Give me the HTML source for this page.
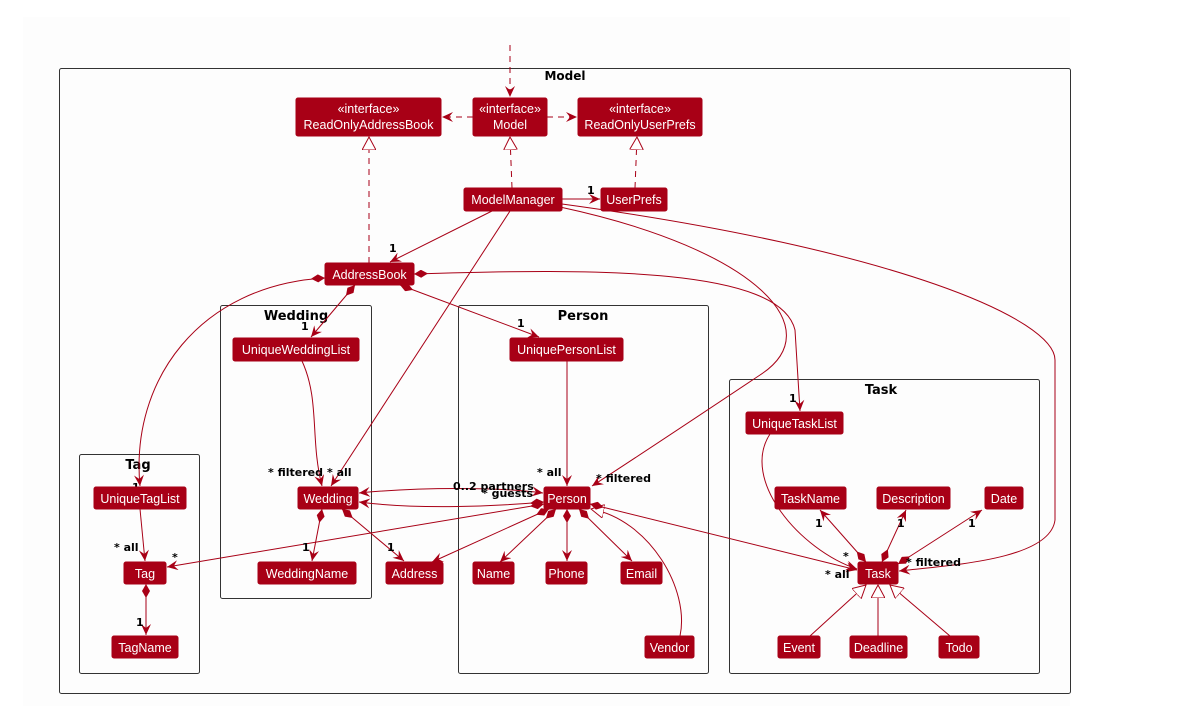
<!DOCTYPE html>
<html><head><meta charset="utf-8"><style>
html,body{margin:0;padding:0;background:#fff;width:1193px;height:706px;overflow:hidden}
svg{display:block}
.n{fill:#a80016;stroke:#a80016}
.t{fill:#fff;font-family:"Liberation Sans",sans-serif;font-size:12.5px;text-anchor:middle}
.pk{fill:none;stroke:#333;stroke-width:1}
.pt{font-family:"DejaVu Sans","Liberation Sans",sans-serif;font-weight:bold;font-size:13px;text-anchor:middle;fill:#000}
.l{font-family:"DejaVu Sans","Liberation Sans",sans-serif;font-weight:bold;font-size:11px;fill:#000}
.e{fill:none;stroke:#a80016;stroke-width:1}
.d{stroke-dasharray:6,5}
</style></head><body>
<svg width="1193" height="706" viewBox="0 0 1193 706" xmlns="http://www.w3.org/2000/svg">
<defs>
<marker id="a" viewBox="0 0 12 10" refX="11" refY="5" markerWidth="12" markerHeight="10" markerUnits="userSpaceOnUse" orient="auto-start-reverse"><path d="M0,0 L11,5 L0,10 L4,5 Z" fill="#a80016"/></marker>
<marker id="dm" viewBox="0 0 14 8" refX="0" refY="4" markerWidth="14" markerHeight="8" markerUnits="userSpaceOnUse" orient="auto"><path d="M0,4 L7,0 L14,4 L7,8 Z" fill="#a80016"/></marker>
<marker id="tr" viewBox="0 0 14 14" refX="13" refY="7" markerWidth="14" markerHeight="14" markerUnits="userSpaceOnUse" orient="auto"><path d="M0,0 L13,7 L0,14 Z" fill="#fff" stroke="#a80016"/></marker>
</defs>
<rect x="23" y="17" width="1047" height="689" fill="#fdfdfd"/>
<!-- packages -->
<rect class="pk" x="59.5" y="68.5" width="1011" height="625" rx="2"/>
<text class="pt" x="565" y="80" style="font-size:12px">Model</text>
<rect class="pk" x="220.5" y="305.5" width="151" height="293" rx="2"/>
<text class="pt" x="296" y="320">Wedding</text>
<rect class="pk" x="458.5" y="305.5" width="250" height="368" rx="2"/>
<text class="pt" x="583" y="320">Person</text>
<rect class="pk" x="729.5" y="379.5" width="310" height="294" rx="2"/>
<text class="pt" x="881" y="394">Task</text>
<rect class="pk" x="79.5" y="454.5" width="120" height="219" rx="2"/>
<text class="pt" x="138" y="469">Tag</text>

<!-- edges -->
<path class="e d" d="M510,45 L510,97" marker-end="url(#a)"/>
<path class="e d" d="M473,117 L442,117" marker-end="url(#a)"/>
<path class="e d" d="M547,117 L577,117" marker-end="url(#a)"/>
<path class="e d" d="M512,188 L510,137" marker-end="url(#tr)"/>
<path class="e d" d="M635,188 L637,137" marker-end="url(#tr)"/>
<path class="e d" d="M369,263 L369,137" marker-end="url(#tr)"/>
<path class="e" d="M562,199 L600,199" marker-end="url(#a)"/>
<path class="e" d="M492,211 L390,262" marker-end="url(#a)"/>
<path class="e" d="M510,211 L331,486" marker-end="url(#a)"/>
<path class="e" d="M560,207 C760,250 830,330 760,375 C700,415 640,455 592,486" marker-end="url(#a)"/>
<path class="e" d="M562,204 C900,250 1055,320 1055,360 L1055,520 C1050,560 950,565 899,571" marker-end="url(#a)"/>
<path class="e" d="M325,278 C200,285 130,380 140,486" marker-start="url(#dm)" marker-end="url(#a)"/>
<path class="e" d="M355,285 L311,337" marker-start="url(#dm)" marker-end="url(#a)"/>
<path class="e" d="M400,285 L539,337" marker-start="url(#dm)" marker-end="url(#a)"/>
<path class="e" d="M414,274 C600,268 780,268 795,330 L800,411" marker-start="url(#dm)" marker-end="url(#a)"/>
<path class="e" d="M302,361 C320,400 310,440 322,486" marker-end="url(#a)"/>
<path class="e" d="M567,361 L567,486" marker-end="url(#a)"/>
<path class="e" d="M770,434 C740,480 800,550 857,569" marker-end="url(#a)"/>
<path class="e" d="M140,509 L145,561" marker-end="url(#a)"/>
<path class="e" d="M359,493 C420,487 500,487 543,493" marker-start="url(#a)" marker-end="url(#a)"/>
<path class="e" d="M544,502 C500,506 420,510 359,502" marker-start="url(#dm)" marker-end="url(#a)"/>
<path class="e" d="M544,504 L167,567" marker-start="url(#dm)" marker-end="url(#a)"/>
<path class="e" d="M549,509 L432,562" marker-start="url(#dm)" marker-end="url(#a)"/>
<path class="e" d="M556,509 L500,562" marker-start="url(#dm)" marker-end="url(#a)"/>
<path class="e" d="M567,509 L567,561" marker-start="url(#dm)" marker-end="url(#a)"/>
<path class="e" d="M579,509 L632,561" marker-start="url(#dm)" marker-end="url(#a)"/>
<path class="e" d="M680,636 C690,590 650,520 591,509" marker-end="url(#tr)"/>
<path class="e" d="M590,504 L857,570" marker-start="url(#dm)" marker-end="url(#a)"/>
<path class="e" d="M322,509 L312,561" marker-start="url(#dm)" marker-end="url(#a)"/>
<path class="e" d="M342,509 L404,561" marker-start="url(#dm)" marker-end="url(#a)"/>
<path class="e" d="M146,584 L146,635" marker-start="url(#dm)" marker-end="url(#a)"/>
<path class="e" d="M866,562 L820,510" marker-start="url(#dm)" marker-end="url(#a)"/>
<path class="e" d="M882,562 L906,510" marker-start="url(#dm)" marker-end="url(#a)"/>
<path class="e" d="M898,564 L982,510" marker-start="url(#dm)" marker-end="url(#a)"/>
<path class="e" d="M810,636 L866,585" marker-end="url(#tr)"/>
<path class="e" d="M878,636 L878,585" marker-end="url(#tr)"/>
<path class="e" d="M950,636 L890,585" marker-end="url(#tr)"/>

<!-- labels -->
<text class="l" x="587" y="194">1</text>
<text class="l" x="389" y="252">1</text>
<text class="l" x="301" y="330">1</text>
<text class="l" x="517" y="327">1</text>
<text class="l" x="789" y="402">1</text>
<text class="l" x="132" y="491">1</text>
<text class="l" x="268" y="476">* filtered</text>
<text class="l" x="327" y="476">* all</text>
<text class="l" x="537" y="476">* all</text>
<text class="l" x="596" y="482">* filtered</text>
<text class="l" x="453" y="490">0..2 partners</text>
<text class="l" x="482" y="497">* guests</text>
<text class="l" x="114" y="551">* all</text>
<text class="l" x="172" y="561">*</text>
<text class="l" x="302" y="551">1</text>
<text class="l" x="387" y="551">1</text>
<text class="l" x="136" y="626">1</text>
<text class="l" x="815" y="527">1</text>
<text class="l" x="897" y="527">1</text>
<text class="l" x="968" y="527">1</text>
<text class="l" x="843" y="560">*</text>
<text class="l" x="825" y="578">* all</text>
<text class="l" x="906" y="566">* filtered</text>

<!-- nodes -->
<rect class="n" x="296" y="98" width="145" height="38" rx="2"/><text class="t" x="368.5" y="113">«interface»</text><text class="t" x="368.5" y="129">ReadOnlyAddressBook</text>
<rect class="n" x="473" y="98" width="74" height="38" rx="2"/><text class="t" x="510" y="113">«interface»</text><text class="t" x="510" y="129">Model</text>
<rect class="n" x="578" y="98" width="124" height="38" rx="2"/><text class="t" x="640" y="113">«interface»</text><text class="t" x="640" y="129">ReadOnlyUserPrefs</text>
<rect class="n" x="464" y="188" width="98" height="23" rx="2"/><text class="t" x="513" y="204">ModelManager</text>
<rect class="n" x="601" y="188" width="66" height="23" rx="2"/><text class="t" x="634" y="204">UserPrefs</text>
<rect class="n" x="325" y="263" width="89" height="22" rx="2"/><text class="t" x="369.5" y="279">AddressBook</text>
<rect class="n" x="233" y="338" width="126" height="23" rx="2"/><text class="t" x="296" y="354">UniqueWeddingList</text>
<rect class="n" x="510" y="338" width="113" height="23" rx="2"/><text class="t" x="566.5" y="354">UniquePersonList</text>
<rect class="n" x="746" y="412" width="97" height="22" rx="2"/><text class="t" x="794.5" y="428">UniqueTaskList</text>
<rect class="n" x="94" y="487" width="92" height="22" rx="2"/><text class="t" x="140" y="503">UniqueTagList</text>
<rect class="n" x="298" y="487" width="60" height="22" rx="2"/><text class="t" x="328" y="503">Wedding</text>
<rect class="n" x="544" y="487" width="46" height="22" rx="2"/><text class="t" x="567" y="503">Person</text>
<rect class="n" x="775" y="487" width="71" height="22" rx="2"/><text class="t" x="810.5" y="503">TaskName</text>
<rect class="n" x="877" y="487" width="73" height="22" rx="2"/><text class="t" x="913.5" y="503">Description</text>
<rect class="n" x="985" y="487" width="38" height="22" rx="2"/><text class="t" x="1004" y="503">Date</text>
<rect class="n" x="124" y="562" width="42" height="22" rx="2"/><text class="t" x="145" y="578">Tag</text>
<rect class="n" x="258" y="562" width="98" height="22" rx="2"/><text class="t" x="307" y="578">WeddingName</text>
<rect class="n" x="386" y="562" width="57" height="22" rx="2"/><text class="t" x="414.5" y="578">Address</text>
<rect class="n" x="473" y="562" width="41" height="22" rx="2"/><text class="t" x="493.5" y="578">Name</text>
<rect class="n" x="546" y="562" width="41" height="22" rx="2"/><text class="t" x="566.5" y="578">Phone</text>
<rect class="n" x="621" y="562" width="41" height="22" rx="2"/><text class="t" x="641.5" y="578">Email</text>
<rect class="n" x="858" y="562" width="40" height="22" rx="2"/><text class="t" x="878" y="578">Task</text>
<rect class="n" x="112" y="636" width="66" height="22" rx="2"/><text class="t" x="145" y="652">TagName</text>
<rect class="n" x="645" y="636" width="49" height="22" rx="2"/><text class="t" x="669.5" y="652">Vendor</text>
<rect class="n" x="778" y="636" width="42" height="22" rx="2"/><text class="t" x="799" y="652">Event</text>
<rect class="n" x="850" y="636" width="57" height="22" rx="2"/><text class="t" x="878.5" y="652">Deadline</text>
<rect class="n" x="939" y="636" width="40" height="22" rx="2"/><text class="t" x="959" y="652">Todo</text>
</svg>
</body></html>
